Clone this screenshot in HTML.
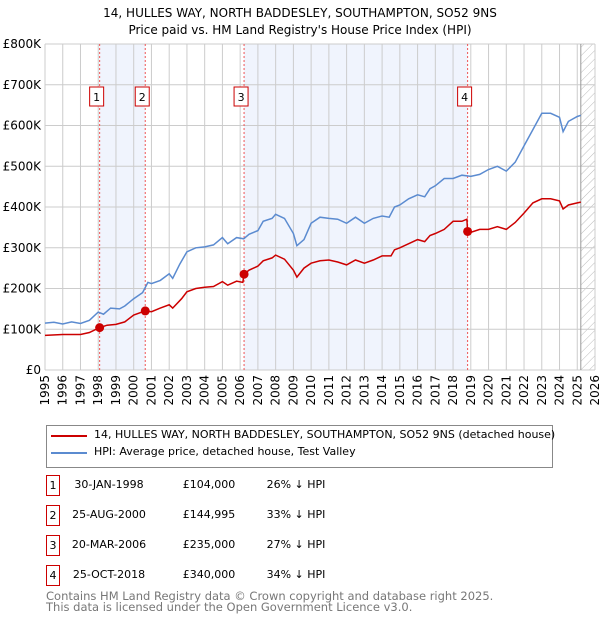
<!DOCTYPE html>
<html><head><meta charset="utf-8"><style>
body{margin:0;background:#fff;font-family:"DejaVu Sans","Liberation Sans",sans-serif;}
#wrap{position:relative;width:600px;height:620px;overflow:hidden;}
.t{position:absolute;font-size:11px;color:#000;white-space:nowrap;}
.box{position:absolute;width:14px;height:21px;border:1px solid #c00;font-size:11px;text-align:center;line-height:20px;box-sizing:border-box;}
svg text{font-family:"DejaVu Sans","Liberation Sans",sans-serif;}
</style></head><body>
<div id="wrap">
<svg id="chart" width="600" height="420" style="position:absolute;left:0;top:0">
<text x="300" y="17" text-anchor="middle" font-size="12">14, HULLES WAY, NORTH BADDESLEY, SOUTHAMPTON, SO52 9NS</text>
<text x="300" y="34" text-anchor="middle" font-size="12">Price paid vs. HM Land Registry's House Price Index (HPI)</text>
<g id="g"></g>
</svg>
<div style="position:absolute;left:46px;top:425px;width:507px;height:43px;border:1px solid #888;box-sizing:border-box">
 <div style="position:absolute;left:4px;top:9px;width:36px;height:2px;background:#c00"></div>
 <div class="t" style="left:47px;top:2px;font-size:11px">14, HULLES WAY, NORTH BADDESLEY, SOUTHAMPTON, SO52 9NS (detached house)</div>
 <div style="position:absolute;left:4px;top:26px;width:36px;height:2px;background:#5b8bd0"></div>
 <div class="t" style="left:47px;top:19px;font-size:11px">HPI: Average price, detached house, Test Valley</div>
</div>
<div id="tbl"></div>
<div class="t" style="left:46px;top:589px;color:#777;font-size:11.5px">Contains HM Land Registry data © Crown copyright and database right 2025.</div>
<div class="t" style="left:46px;top:600px;color:#777;font-size:11.5px">This data is licensed under the Open Government Licence v3.0.</div>
</div>
<script>
const hpiX=[1995,1995.5,1996,1996.5,1997,1997.5,1998,1998.3,1998.7,1999.2,1999.5,2000,2000.5,2000.8,2001,2001.5,2002,2002.2,2002.6,2003,2003.5,2004,2004.5,2005,2005.3,2005.8,2006.2,2006.5,2007,2007.3,2007.8,2008,2008.5,2009,2009.2,2009.6,2010,2010.5,2011,2011.5,2012,2012.5,2013,2013.5,2014,2014.4,2014.7,2015,2015.5,2016,2016.4,2016.7,2017,2017.5,2018,2018.5,2019,2019.5,2020,2020.5,2021,2021.5,2022,2022.5,2023,2023.5,2024,2024.2,2024.5,2025,2025.2];
const hpiY=[115,117,113,118,114,122,142,137,152,150,157,175,190,215,212,220,236,225,260,290,300,302,307,325,310,325,322,333,342,365,372,382,372,335,305,320,360,375,372,370,360,375,360,372,378,375,400,405,420,430,425,445,452,470,470,478,475,480,492,500,488,510,550,590,630,630,620,585,610,622,625];
const priceX=[1995,1996,1997,1997.5,1998.08,1998.5,1999,1999.5,2000,2000.65,2001,2001.5,2002,2002.2,2002.7,2003,2003.5,2004,2004.5,2005,2005.3,2005.8,2006.15,2006.22,2006.5,2007,2007.3,2007.8,2008,2008.5,2009,2009.2,2009.6,2010,2010.5,2011,2011.5,2012,2012.5,2013,2013.5,2014,2014.5,2014.7,2015,2015.5,2016,2016.4,2016.7,2017,2017.5,2018,2018.5,2018.78,2018.82,2019,2019.5,2020,2020.5,2021,2021.5,2022,2022.5,2023,2023.5,2024,2024.2,2024.5,2025,2025.2];
const priceY=[85,87,87,92,104,110,112,118,135,145,143,152,160,152,175,192,200,203,205,217,208,218,215,235,245,255,268,275,282,272,245,228,250,262,268,270,265,258,270,262,270,280,280,295,300,310,320,315,330,335,345,365,365,370,340,338,345,345,352,345,362,385,410,420,420,415,395,405,410,412];
const saleX=[1998.08,2000.65,2006.22,2018.82];
const saleY=[104,144.995,235,340];
const saleLabels=["1","2","3","4"];
const saleDates=["30-JAN-1998","25-AUG-2000","20-MAR-2006","25-OCT-2018"];
const salePrices=["£104,000","£144,995","£235,000","£340,000"];
const saleDiff=["26% ↓ HPI","33% ↓ HPI","27% ↓ HPI","34% ↓ HPI"];
const yTicks=[0,100,200,300,400,500,600,700,800];
const yTickLabels=["£0","£100K","£200K","£300K","£400K","£500K","£600K","£700K","£800K"];
const xTicks=[1995,1996,1997,1998,1999,2000,2001,2002,2003,2004,2005,2006,2007,2008,2009,2010,2011,2012,2013,2014,2015,2016,2017,2018,2019,2020,2021,2022,2023,2024,2025,2026];
const dataEnd=2025.2;

const X0=45,X1=595,Y0=370,Y1=44;
const xs=v=>X0+(v-1995)/(2026-1995)*(X1-X0);
const ys=v=>Y0-v/800*(Y0-Y1);
const NS="http://www.w3.org/2000/svg";
const g=document.getElementById('g');
function mk(t,a,name,parent){const e=document.createElementNS(NS,t);for(const k in a)e.setAttribute(k,a[k]);


(parent||g).appendChild(e);return e;}
mk('rect',{x:xs(saleX[0]),y:Y1,width:xs(saleX[1])-xs(saleX[0]),height:Y0-Y1,fill:'#f0f4fd'},'shade-sale-1-2');
mk('rect',{x:xs(saleX[2]),y:Y1,width:xs(saleX[3])-xs(saleX[2]),height:Y0-Y1,fill:'#f0f4fd'},'shade-sale-3-4');
const defs=mk('defs',{},'defs');
const pat=mk('pattern',{id:'hatch',width:6,height:6,patternUnits:'userSpaceOnUse',patternTransform:'rotate(45)'},'hatch-pattern',defs);
mk('line',{x1:0,y1:0,x2:0,y2:6,stroke:'#bbb','stroke-width':1},'hatch-line',pat);
mk('rect',{x:xs(dataEnd),y:Y1,width:X1-xs(dataEnd),height:Y0-Y1,fill:'url(#hatch)'},'future-hatch');
yTicks.forEach((v,i)=>{mk('line',{x1:X0,x2:X1,y1:ys(v),y2:ys(v),stroke:'#ccc'},'y-gridline');
const t=mk('text',{x:X0-4,y:ys(v)+4,'text-anchor':'end','font-size':12},'y-tick-label');t.textContent=yTickLabels[i];});
xTicks.forEach(v=>{mk('line',{x1:xs(v),x2:xs(v),y1:Y1,y2:Y0,stroke:'#ccc'},'x-gridline');
const t=mk('text',{x:0,y:0,'text-anchor':'end','font-size':12,transform:`translate(${xs(v)+4},${Y0+5}) rotate(-90)`},'x-tick-label');t.textContent=v;});
mk('line',{x1:xs(dataEnd),x2:xs(dataEnd),y1:Y1,y2:Y0,stroke:'#999'},'data-end-line');
saleX.forEach((v,i)=>{mk('line',{x1:xs(v),x2:xs(v),y1:Y1,y2:Y0,stroke:'#e55','stroke-dasharray':'2,2'},'sale-line');
mk('rect',{x:xs(v)-10,y:87,width:14,height:19,fill:'#fff',stroke:'#c00'},'sale-label-box');
const t=mk('text',{x:xs(v)-3,y:101,'text-anchor':'middle','font-size':11},'sale-label');t.textContent=saleLabels[i];});
const line=(X,Y)=>X.map((x,i)=>(i?'L':'M')+xs(x).toFixed(1)+','+ys(Y[i]).toFixed(1)).join('');
mk('path',{d:line(hpiX,hpiY),fill:'none',stroke:'#5b8bd0','stroke-width':1.5},'hpi-line');
mk('path',{d:line(priceX,priceY),fill:'none',stroke:'#c00','stroke-width':1.5},'price-line');
saleX.forEach((v,i)=>{mk('circle',{cx:xs(v),cy:ys(saleY[i]),r:4.5,fill:'#c00'},'sale-marker');});
const tbl=document.getElementById('tbl');
saleX.forEach((v,i)=>{const top=475+i*30;
const b=document.createElement('div');b.className='box';b.style.left='46px';b.style.top=top+'px';b.textContent=saleLabels[i];

tbl.appendChild(b);
[[saleDates[i],109,'table-sale-date'],[salePrices[i],209,'table-sale-price'],[saleDiff[i],296,'table-sale-hpi-diff']].forEach(c=>{
const d=document.createElement('div');d.className='t';d.style.top=(top+3)+'px';d.style.left=c[1]+'px';d.style.transform='translateX(-50%)';d.textContent=c[0];

tbl.appendChild(d);});});
</script>
</body></html>
